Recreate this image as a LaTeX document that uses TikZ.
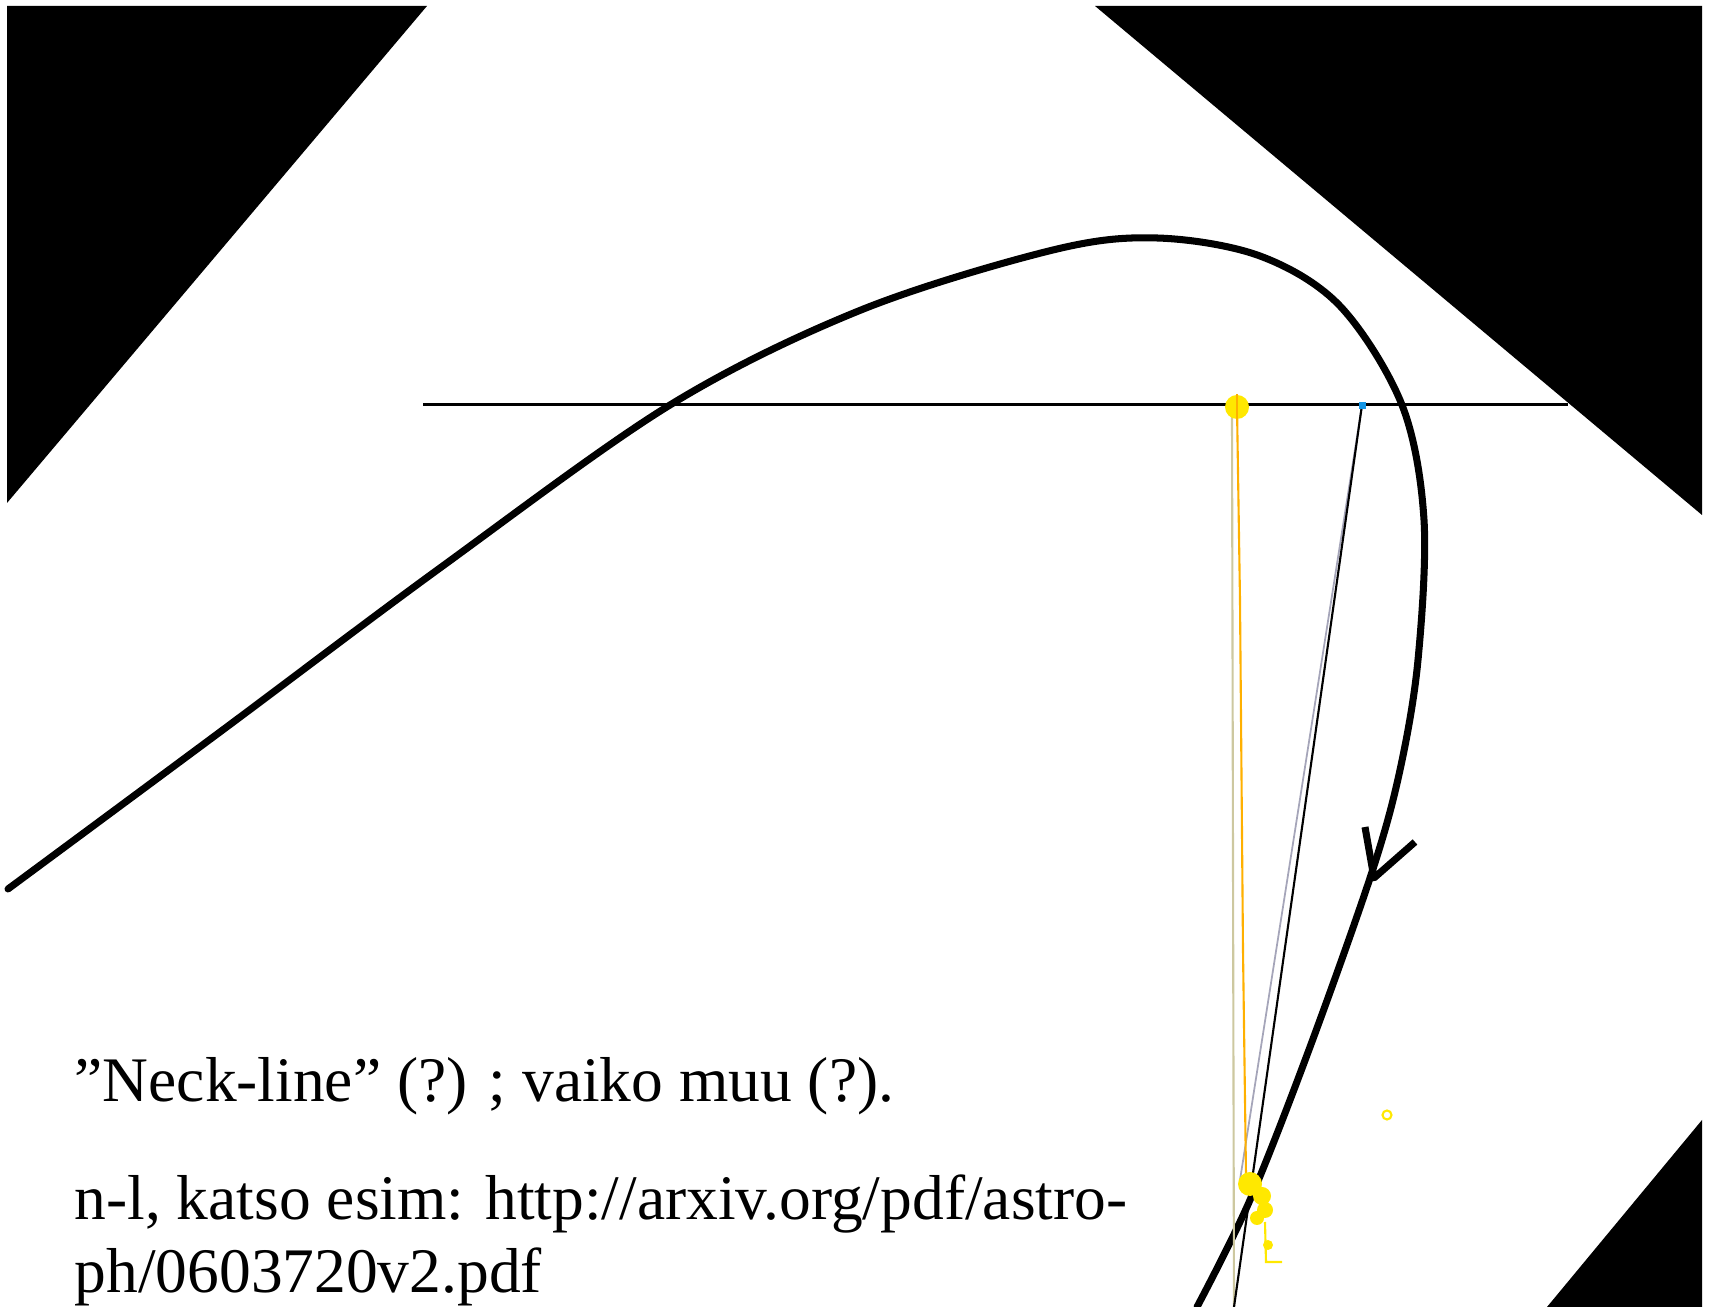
\documentclass[tikz,border=0pt]{standalone}
\usepackage{fontspec}
\setmainfont{Liberation Serif}
\usetikzlibrary{calc}
\definecolor{dotyellow}{RGB}{255,232,0}
\definecolor{lineorange}{RGB}{255,176,0}
\definecolor{linebeige}{RGB}{205,200,160}
\definecolor{linegrey}{RGB}{165,165,185}
\definecolor{tipblue}{RGB}{20,150,230}

\begin{document}
\begin{tikzpicture}[x=0.01cm,y=-0.01cm]
  \useasboundingbox (0,0) rectangle (1711,1307);
  \tikzset{txt/.style={anchor=base west, inner sep=0pt,
      font=\fontsize{18.05pt}{20.8pt}\selectfont}}
  % black corners
  \fill [black] (7,6) -- (427,6) -- (7,503) -- cycle;
  \fill [black] (1095,6) -- (1702,6) -- (1702,515) -- cycle;
  \fill [black] (1702,1120) -- (1702,1307) -- (1547,1307) -- cycle;
  % points
  \coordinate (hl) at (423,405);
  \coordinate (hr) at (1568,405);
  \coordinate (bl) at (1362,405);
  \coordinate (bend) at (1234,1307);
  \coordinate (gend) at (1240,1180);
  \coordinate (ytop) at (1237,407);
  \coordinate (yend) at (1246,1175);
  % trajectory
  \draw [line width=2pt, line cap=round] plot [smooth, tension=0.55] coordinates {
    (8,889) (220,732) (440,568) (670,405) (861,310)
    (1053,250) (1157,238) (1260,256) (1340,306)
    (1402,405) (1424,520) (1418,660) (1400,770)
    (1372,872) (1310,1047) (1250,1200) (1197,1307)};
  \draw [line width=2pt, line join=round] (1365,827) -- (1374,878) -- (1415,842);
  % lines
  \draw [line width=0.85pt] (hl) -- (hr);
  \draw [linebeige, line width=0.6pt] (1232,415) -- (1234,1307);
  \draw [linegrey, line width=0.5pt] (bl) -- (gend);
  \draw [line width=0.6pt] (bl) -- (bend);
  \draw [lineorange, line width=0.6pt] (ytop) -- (1240,600) -- (1243,950) -- (yend);
  \node (ydot) [circle, fill=dotyellow, inner sep=0pt, minimum size=0.24cm] at (ytop) {};
  \draw [lineorange, line width=0.6pt] (ydot.north) -- (ydot.south);
  \fill [tipblue] (1359,402) rectangle (1366,409);
  % yellow scribble
  \fill [dotyellow] (1250,1184) circle (12) (1262,1196) circle (9)
    (1265,1210) circle (8) (1257,1218) circle (7) (1268,1245) circle (5);
  \draw [dotyellow, line width=0.6pt] (1265,1222) -- (1266,1262) -- (1282,1262);
  \draw [dotyellow, line width=0.6pt] (1387,1115) circle (4.5);
  % texts
  \node (t1) [txt] at (74,1102) {”Neck-line” (?) ; vaiko muu (?).};
  \node (t2) [txt] at (74,1220) {n-l, katso esim: http://arxiv.org/pdf/astro-};
  \node (t3) [txt] at (74,1293) {ph/0603720v2.pdf};
\end{tikzpicture}
\end{document}
